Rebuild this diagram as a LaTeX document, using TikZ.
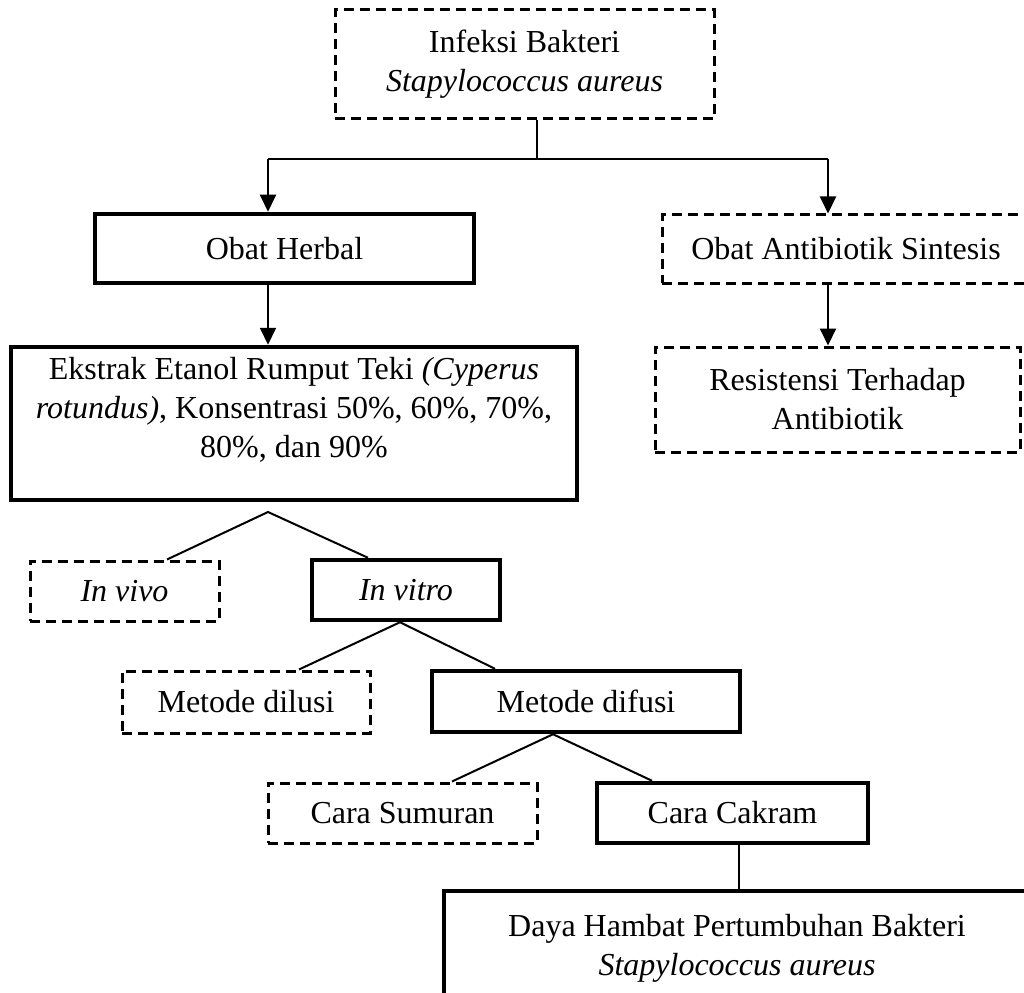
\documentclass[tikz,border=0pt]{standalone}
\usepackage{fontspec}
\setmainfont{Liberation Serif}
\usetikzlibrary{arrows.meta}
\tikzset{
  txt/.style={font=\fontsize{32}{39}\selectfont, align=center, inner sep=0pt},
  solidbox/.style={draw, line width=4.5pt, rectangle, inner sep=0pt, font=\fontsize{32}{39}\selectfont, align=center},
  dashbox/.style={draw, line width=3pt, dash pattern=on 10pt off 6pt, rectangle, inner sep=0pt, font=\fontsize{32}{39}\selectfont, align=center},
  conn/.style={line width=2pt},
  arr/.style={line width=2pt, -{Triangle[width=16pt,length=17pt]}}
}
\begin{document}
\begin{tikzpicture}[x=1pt,y=-1pt]
\clip (0,0) rectangle (1024,992);
\fill[white] (0,0) rectangle (1024,992);

% boxes
\node[dashbox, minimum width=379pt, minimum height=109pt] (top) at (524.5,64.5)
  {Infeksi Bakteri\\ \textit{Stapylococcus aureus}};
\node[solidbox, minimum width=379pt, minimum height=69pt] (herbal) at (284.5,248.5) {Obat Herbal};
\node[dashbox, minimum width=368pt, minimum height=68pt] (antibiotik) at (846,249) {Obat Antibiotik Sintesis};
\node[solidbox, minimum width=566pt, minimum height=153pt] (ekstrak) at (294,423.5) {};
\node[txt] (ekstraktxt) at (294,410)
  {Ekstrak Etanol Rumput Teki \textit{(Cyperus}\\ \textit{rotundus)}, Konsentrasi 50\%, 60\%, 70\%,\\ 80\%, dan 90\%};
\node[dashbox, minimum width=365pt, minimum height=105pt] (resistensi) at (837.5,399.5)
  {Resistensi Terhadap\\ Antibiotik};
\node[dashbox, minimum width=189pt, minimum height=60pt] (invivo) at (124.5,591) {\textit{In vivo}};
\node[solidbox, minimum width=188pt, minimum height=60pt] (invitro) at (406,590) {\textit{In vitro}};
\node[dashbox, minimum width=248pt, minimum height=62pt] (dilusi) at (246,702) {Metode dilusi};
\node[solidbox, minimum width=308pt, minimum height=61pt] (difusi) at (586,701.5) {Metode difusi};
\node[dashbox, minimum width=269pt, minimum height=60pt] (sumuran) at (402.5,813) {Cara Sumuran};
\node[solidbox, minimum width=271pt, minimum height=60pt] (cakram) at (732.5,813) {Cara Cakram};
\node[solidbox, minimum width=586pt, minimum height=115pt] (daya) at (737,948.5)
  {Daya Hambat Pertumbuhan Bakteri\\ \textit{Stapylococcus aureus}};

% junction and attachment coordinates
\coordinate (j) at (537,159);
\coordinate (cL) at (268,159);
\coordinate (cR) at (828,159);
\coordinate (a1) at (268,512);
\coordinate (a2) at (400,0);
\coordinate (a3) at (553,0);
\coordinate (xv1) at (167,0);
\coordinate (xv2) at (368,0);
\coordinate (xd1) at (299,0);
\coordinate (xd2) at (495,0);
\coordinate (xc1) at (452,0);
\coordinate (xc2) at (652,0);
\coordinate (xk) at (739,0);

% connectors
\draw[conn] (top.south -| j) -- (j);
\draw[conn] (cL) -- (cR);
\draw[arr] (cL) -- (cL |- herbal.north);
\draw[arr] (cR) -- (cR |- antibiotik.north);
\draw[arr] (herbal.south -| cL) -- (ekstrak.north -| cL);
\draw[arr] (antibiotik.south -| cR) -- (resistensi.north -| cR);

\draw[conn] (invivo.north -| xv1) -- (a1) -- (invitro.north -| xv2);
\draw[conn] (dilusi.north -| xd1) -- (invitro.south -| a2) -- (difusi.north -| xd2);
\draw[conn] (sumuran.north -| xc1) -- (difusi.south -| a3) -- (cakram.north -| xc2);
\draw[conn] (cakram.south -| xk) -- (daya.north -| xk);
\end{tikzpicture}
\end{document}
